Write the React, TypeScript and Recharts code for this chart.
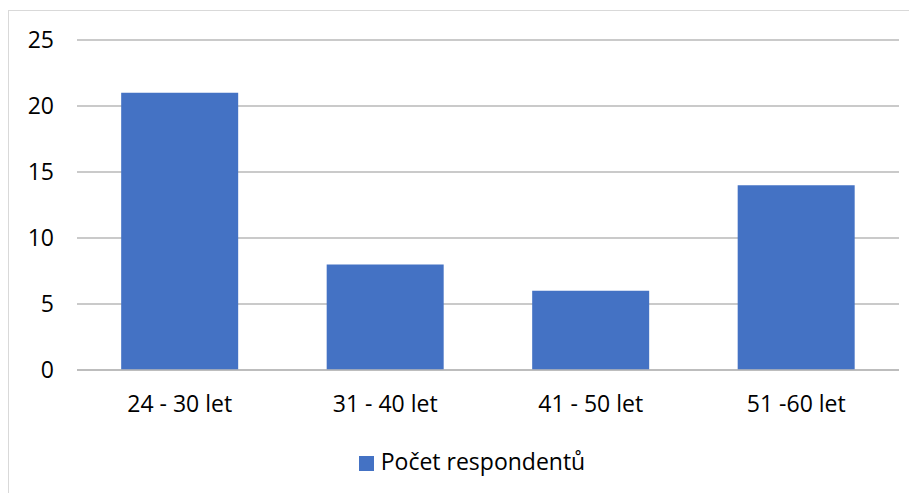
import { BarChart, Bar, CartesianGrid, Legend, XAxis, YAxis } from 'recharts'

// ── Data ──────────────────────────────────────────────────────────────────────

const categories = ['24 - 30 let', '31 - 40 let', '41 - 50 let', '51 -60 let']
const respondents = [21, 8, 6, 14]
const yTicks = [0, 5, 10, 15, 20, 25]

const data = categories.map((name, i) => ({ name, value: respondents[i] }))

const FONT = '"Open Sans", sans-serif'
const tickStyle = { fontSize: 23, fill: '#000', fontFamily: FONT }

export default function App() {
  return (
    <div
      style={{
        marginTop: 2,
        width: 1000,
        height: 600,
        borderLeft: '1px solid #d9d9d9',
        borderTop: '1px solid #d9d9d9',
        boxSizing: 'border-box',
        background: '#fff',
      }}
    >
      <BarChart
        width={909}
        height={483}
        data={data}
        margin={{ top: 29, right: 19, left: 0, bottom: 10 }}
        barCategoryGap="21.5%"
      >
        <CartesianGrid vertical={false} stroke="#b8b8b8" strokeWidth={1.4} />
        <XAxis
          dataKey="name"
          height={84}
          tick={tickStyle}
          tickLine={false}
          axisLine={{ stroke: '#b8b8b8', strokeWidth: 1.4 }}
          tickMargin={20}
        />
        <YAxis
          width={68}
          domain={[0, 25]}
          ticks={yTicks}
          tick={tickStyle}
          tickLine={false}
          axisLine={false}
          tickMargin={17}
        />
        <Legend
          verticalAlign="bottom"
          iconType="square"
          iconSize={15}
          wrapperStyle={{ bottom: 18, paddingLeft: 23, fontFamily: FONT, fontSize: 23, lineHeight: '30px' }}
          formatter={(v: string) => <span style={{ color: '#000', marginLeft: 3 }}>{v}</span>}
        />
        <Bar dataKey="value" name="Počet respondentů" fill="#4472c4" isAnimationActive={false} />
      </BarChart>
    </div>
  )
}
